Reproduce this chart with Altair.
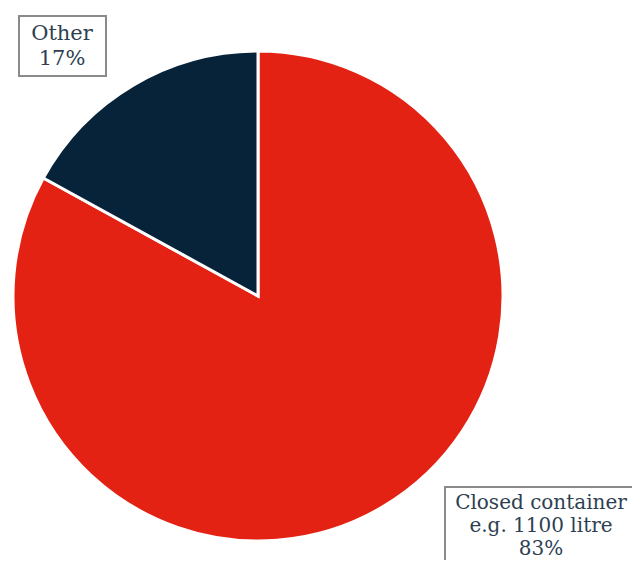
import altair as alt
import pandas as pd

categories = ["Closed container e.g. 1100 litre", "Other"]
shares = [83, 17]
colors = ["#e32213", "#06233a"]
label_lines = [["Closed container", "e.g. 1100 litre", "83%"], ["Other", "17%"]]

df = pd.DataFrame({"category": categories, "share": shares, "order": [0, 1]})

pie = alt.Chart(df).mark_arc(stroke="white", strokeWidth=3, radius=245).encode(
    theta=alt.Theta("share:Q", stack=True),
    order=alt.Order("order:Q"),
    color=alt.Color("category:N", scale=alt.Scale(domain=categories, range=colors), legend=None),
    x=alt.value(250),
    y=alt.value(288),
)

lab_other = pd.DataFrame({"t": [label_lines[1]]})
lab_closed = pd.DataFrame({"t": [label_lines[0]]})

box_other = alt.Chart(pd.DataFrame({"a": [0]})).mark_rect(
    fill="white", stroke="#8a8a8a", strokeWidth=2
).encode(x=alt.value(11), x2=alt.value(98), y=alt.value(8), y2=alt.value(68))

box_closed = alt.Chart(pd.DataFrame({"a": [0]})).mark_rect(
    fill="white", stroke="#8a8a8a", strokeWidth=2
).encode(x=alt.value(437), x2=alt.value(650), y=alt.value(479), y2=alt.value(600))

text_style = dict(font="DejaVu Serif", fontSize=20, color="#2e3f52", align="center",
                  baseline="middle", lineHeight=23)

txt_other = alt.Chart(lab_other).mark_text(**{**text_style, "fontSize": 21, "lineHeight": 25}).encode(
    text="t", x=alt.value(54), y=alt.value(26)
)
txt_closed = alt.Chart(lab_closed).mark_text(**text_style).encode(
    text="t", x=alt.value(533), y=alt.value(495)
)

chart = alt.layer(pie, box_other, txt_other, box_closed, txt_closed).properties(
    width=624, height=552, autosize=alt.AutoSizeParams(type="none"), padding=0
).configure_view(stroke=None)

chart.save("out.html", embed_options={"renderer": "svg", "actions": False})
